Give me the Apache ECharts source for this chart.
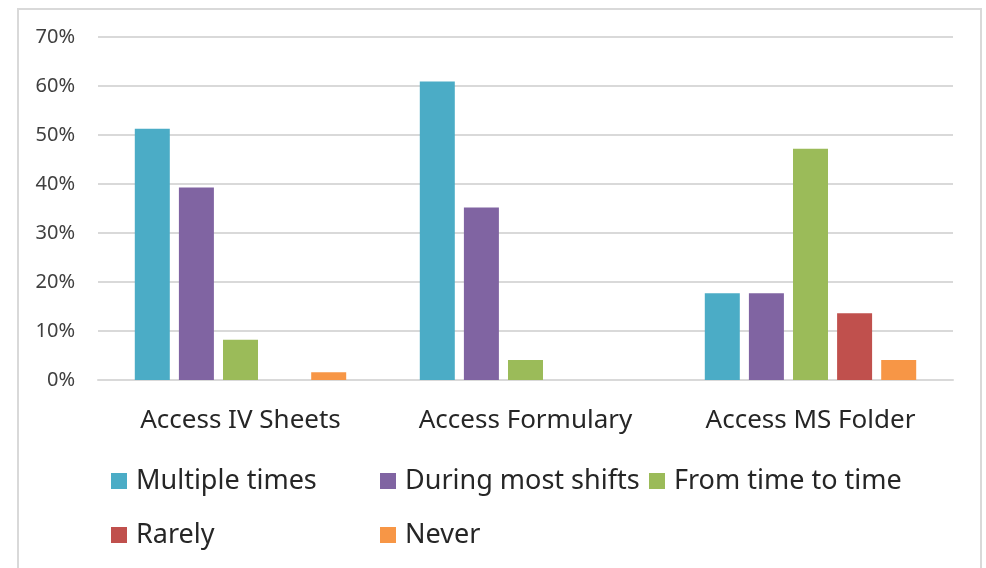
<!DOCTYPE html>
<html><head><meta charset="utf-8">
<script src="https://cdn.jsdelivr.net/npm/echarts@6/dist/echarts.min.js"></script>
<style>html,body{margin:0;padding:0;background:#fff}#c{width:986px;height:568px}</style>
</head><body><div id="c"></div>
<script>
const categories = ['Access IV Sheets', 'Access Formulary', 'Access MS Folder'];
const seriesNames = ['Multiple times', 'During most shifts', 'From time to time', 'Rarely', 'Never'];
const multipleTimes = [51.3, 60.9, 17.7];
const duringMostShifts = [39.3, 35.2, 17.7];
const fromTimeToTime = [8.2, 4.1, 47.2];
const rarely = [0, 0, 13.6];
const never = [1.6, 0, 4.1];
const yTicks = [0, 10, 20, 30, 40, 50, 60, 70];
const colors = ['#4bacc6', '#8064a2', '#9bbb59', '#c0504d', '#f79646'];
const values = [multipleTimes, duringMostShifts, fromTimeToTime, rarely, never];

const chart = echarts.init(document.getElementById('c'), null, {renderer: 'canvas'});
const font = 'Noto Sans, sans-serif';
chart.setOption({
  animation: false,
  color: colors,
  graphic: [{type: 'rect', shape: {x: 18, y: 9, width: 963, height: 620}, style: {fill: 'none', stroke: '#d9d9d9', lineWidth: 2}, silent: true, z: -1}],
  grid: {left: 98, right: 33, top: 37, bottom: 188, containLabel: false},
  xAxis: {
    type: 'category', data: categories,
    axisLine: {show: true, lineStyle: {color: '#d9d9d9', width: 2}},
    axisTick: {show: false},
    axisLabel: {interval: 0, hideOverlap: false, fontFamily: font, fontSize: 26, color: '#262626', margin: 28}
  },
  yAxis: {
    type: 'value', min: yTicks[0], max: yTicks[yTicks.length - 1], interval: 10,
    axisLine: {show: false}, axisTick: {show: false},
    splitLine: {lineStyle: {color: '#d9d9d9', width: 2}},
    axisLabel: {fontFamily: font, fontSize: 20, color: '#404040', margin: 23, formatter: v => v + '%'}
  },
  legend: {
    left: 106, top: 451, width: 820, orient: 'horizontal',
    itemWidth: 16, itemHeight: 16, itemGap: 4, icon: 'rect',
    textStyle: {fontFamily: font, fontSize: 27, color: '#262626', width: 240, lineHeight: 50, padding: [0, 0, 0, 4]},
    data: seriesNames
  },
  series: seriesNames.map((n, i) => ({
    name: n, type: 'bar', data: values[i], barWidth: 35, barGap: '26%',
    itemStyle: {color: colors[i]}
  }))
});
</script></body></html>
